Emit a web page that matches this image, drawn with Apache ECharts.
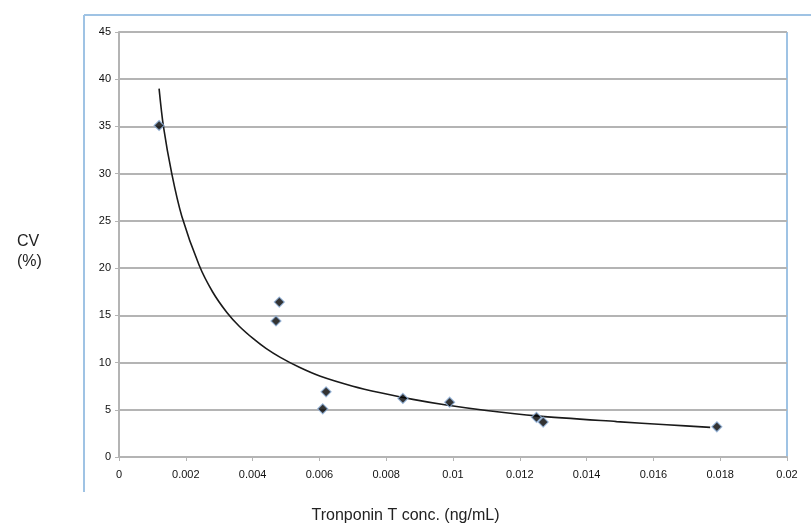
<!DOCTYPE html>
<html lang="en">

<head>
  <script src="https://cdn.jsdelivr.net/npm/echarts@6.0.0/dist/echarts.min.js"></script>
</head>

<body style="margin:0">
  <div id="cvChart" style="width: 811px;height:527px;"></div>

  <script type="text/javascript">

    // measured points: [conc, CV]
    var measured = [
        [0.0012, 35.1],
        [0.0047, 14.4],
        [0.0048, 16.4],
        [0.0061, 5.1],
        [0.0062, 6.9],
        [0.0085, 6.2],
        [0.0099, 5.8],
        [0.0125, 4.2],
        [0.0127, 3.7],
        [0.0179, 3.2]
    ];

    // trend line
    var trend = [
        [0.0012, 39.0], [0.00133, 35.0], [0.00158, 30.0], [0.00188, 25.5],
        [0.0024, 20.3], [0.0028, 17.5], [0.00323, 15.3], [0.0036, 13.85],
        [0.00403, 12.5], [0.0044, 11.5], [0.00483, 10.55], [0.0054, 9.5],
        [0.00603, 8.55], [0.007, 7.5], [0.00783, 6.8], [0.0088, 6.1],
        [0.0098, 5.5], [0.011, 4.92], [0.0125, 4.35], [0.0149, 3.75],
        [0.0164, 3.42], [0.0177, 3.14]
    ];

    var xTitle = 'Tronponin T conc. (ng/mL)';
    var yTitle = 'CV\n(%)';

    var chart = echarts.init(document.getElementById('cvChart'));
    var gridColor = '#b4b4b4';
    var frameColor = '#9fc3e4';
    var font = 'Liberation Sans, Arial, sans-serif';

    var option = {
        animation: false,
        grid: { left: 119, top: 32, right: 24, bottom: 70 },
        graphic: [
            { type: 'line', shape: { x1: 84, y1: 15, x2: 811, y2: 15 }, style: { stroke: frameColor, lineWidth: 2 } },
            { type: 'line', shape: { x1: 84, y1: 15, x2: 84, y2: 492 }, style: { stroke: frameColor, lineWidth: 2 } },
            { type: 'line', shape: { x1: 119, y1: 32, x2: 787, y2: 32 }, style: { stroke: frameColor, lineWidth: 2 } },
            { type: 'line', shape: { x1: 787, y1: 32, x2: 787, y2: 457 }, style: { stroke: frameColor, lineWidth: 2 } },
            { type: 'text', left: 17, top: 228, style: { text: yTitle, font: '16px ' + font, fill: '#222', lineHeight: 20 } },
            { type: 'text', left: 'center', top: 502, style: { text: xTitle, font: '16px ' + font, fill: '#222' } }
        ],
        xAxis: {
            type: 'value',
            min: 0, max: 0.02, interval: 0.002,
            axisLine: { lineStyle: { color: gridColor, width: 2 } },
            axisTick: { show: true, length: 4, lineStyle: { color: gridColor } },
            splitLine: { show: false },
            axisLabel: { color: '#111', fontSize: 11, fontFamily: font, margin: 8 }
        },
        yAxis: {
            type: 'value',
            min: 0, max: 45, interval: 5,
            axisLine: { show: true, lineStyle: { color: gridColor, width: 2 } },
            axisTick: { show: true, length: 4, lineStyle: { color: gridColor } },
            splitLine: { lineStyle: { color: gridColor, width: 2 } },
            axisLabel: { color: '#111', fontSize: 11, fontFamily: font, margin: 8 }
        },
        series: [
            {
                type: 'line',
                data: trend,
                smooth: 0.3,
                showSymbol: false,
                lineStyle: { color: '#1a1a1a', width: 1.6 },
                z: 2
            },
            {
                type: 'scatter',
                data: measured,
                symbol: 'diamond',
                symbolSize: 10,
                itemStyle: { color: '#000', borderColor: '#8fb0da', borderWidth: 1.2 },
                z: 3
            }
        ]
    };

    chart.setOption(option);
  </script>
</body>

</html>
